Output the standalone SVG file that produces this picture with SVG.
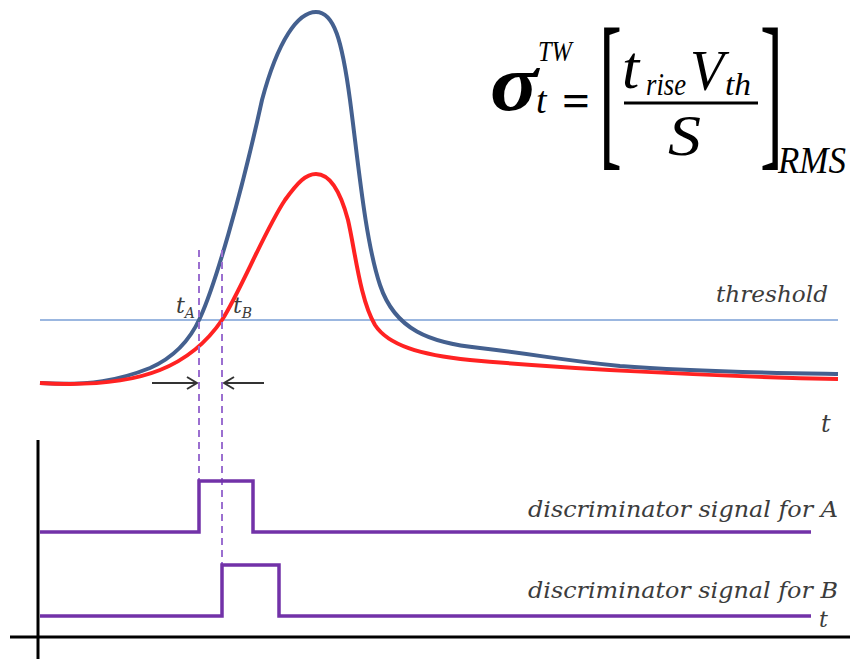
<svg xmlns="http://www.w3.org/2000/svg" width="850" height="659" viewBox="0 0 850 659">
<defs>
<style>
.lab{font-family:'DejaVu Serif',serif;font-style:italic;fill:#3c3c3c;}
.math{font-family:'Liberation Serif',serif;fill:#000;}
.it{font-style:oblique;}
.axis{stroke:#000;stroke-width:3;fill:none;}
.pulse{stroke:#7232a8;stroke-width:3.5;fill:none;}
.dash{stroke:#9b6fd0;stroke-width:2;stroke-dasharray:7 5;fill:none;}
.arr{stroke:#333;stroke-width:2;fill:none;}
</style>
<marker id="chev" viewBox="0 0 12 14" refX="11" refY="7" markerWidth="12" markerHeight="14" markerUnits="userSpaceOnUse" orient="auto">
<polyline points="1,1 11,7 1,13" fill="none" stroke="#333" stroke-width="2"/>
</marker>
</defs>
<rect width="850" height="659" fill="#fff"/>

<g id="threshold">
<line x1="40" y1="320" x2="838" y2="320" stroke="#7a9fd6" stroke-width="1.6"/>
<text class="lab" x="828" y="302" font-size="22" text-anchor="end" textLength="112" lengthAdjust="spacingAndGlyphs">threshold</text>
</g>

<g id="curve-blue">
<path d="M40,383 C90,386 120,380 150,368 C175,357 190,340 200,318 C215,285 240,200 262,100 C278,40 298,12 316,12 C334,12 342,40 350,100 C358,160 365,240 380,285 C395,330 430,343 480,348 C540,355 560,360 620,366 C700,372 780,373 838,374" fill="none" stroke="#44608f" stroke-width="4"/>
</g>
<g id="curve-red">
<path d="M40,383 C90,386 130,382 160,370 C185,360 205,345 222,320 C240,292 265,230 285,200 C298,182 306,174 316,174 C330,174 340,190 348,220 C355,250 360,300 375,325 C388,345 420,355 470,360 C560,368 700,376 838,379" fill="none" stroke="#ff2222" stroke-width="4"/>
</g>

<g id="markers">
<line class="dash" x1="199" y1="250" x2="199" y2="480"/>
<line class="dash" x1="222" y1="250" x2="222" y2="564"/>
<text class="lab" x="176" y="313" font-size="22">t<tspan font-size="14" dy="5">A</tspan></text>
<text class="lab" x="233" y="313" font-size="22">t<tspan font-size="14" dy="5">B</tspan></text>
<text class="lab" x="821" y="432" font-size="24">t</text>
</g>

<g id="connectors">
<line class="arr" x1="152" y1="383" x2="197" y2="383" marker-end="url(#chev)"/>
<line class="arr" x1="264" y1="383" x2="224" y2="383" marker-end="url(#chev)"/>
</g>

<g id="axes">
<line class="axis" x1="38" y1="440" x2="38" y2="659"/>
<line class="axis" x1="10" y1="637" x2="850" y2="637"/>
</g>

<g id="signal-A">
<polyline class="pulse" points="40,532 199,532 199,481 253,481 253,532 811,532"/>
<text class="lab" x="838" y="517" font-size="22" text-anchor="end" textLength="310" lengthAdjust="spacingAndGlyphs">discriminator signal for A</text>
</g>
<g id="signal-B">
<polyline class="pulse" points="40,616 222,616 222,565 279,565 279,616 811,616"/>
<text class="lab" x="838" y="598" font-size="22" text-anchor="end" textLength="310" lengthAdjust="spacingAndGlyphs">discriminator signal for B</text>
<text class="lab" x="819" y="627" font-size="22">t</text>
</g>

<g id="formula">
<text class="math it" x="490" y="110" font-size="80" font-weight="bold" textLength="48" lengthAdjust="spacingAndGlyphs">σ</text>
<text class="math it" x="538" y="61" font-size="30" textLength="34" lengthAdjust="spacingAndGlyphs">TW</text>
<text class="math it" x="536" y="113" font-size="38">t</text>
<text class="math" x="562" y="116" font-size="46" font-weight="bold" textLength="28" lengthAdjust="spacingAndGlyphs">=</text>
<text class="math" transform="translate(599,147) scale(0.4,1)" font-size="172">[</text>
<text class="math it" x="622" y="88" font-size="62">t</text>
<text class="math it" x="646" y="95" font-size="31" textLength="40" lengthAdjust="spacingAndGlyphs">rise</text>
<text class="math it" x="690" y="90" font-size="56" textLength="34" lengthAdjust="spacingAndGlyphs">V</text>
<text class="math it" x="725" y="95" font-size="31" textLength="26" lengthAdjust="spacingAndGlyphs">th</text>
<line x1="624" y1="103" x2="758" y2="103" stroke="#000" stroke-width="3"/>
<text class="math it" x="668" y="155" font-size="56" textLength="33" lengthAdjust="spacingAndGlyphs">S</text>
<text class="math" transform="translate(760,147) scale(0.4,1)" font-size="172">]</text>
<text class="math it" x="778" y="173" font-size="37" textLength="68" lengthAdjust="spacingAndGlyphs">RMS</text>
</g>
</svg>
